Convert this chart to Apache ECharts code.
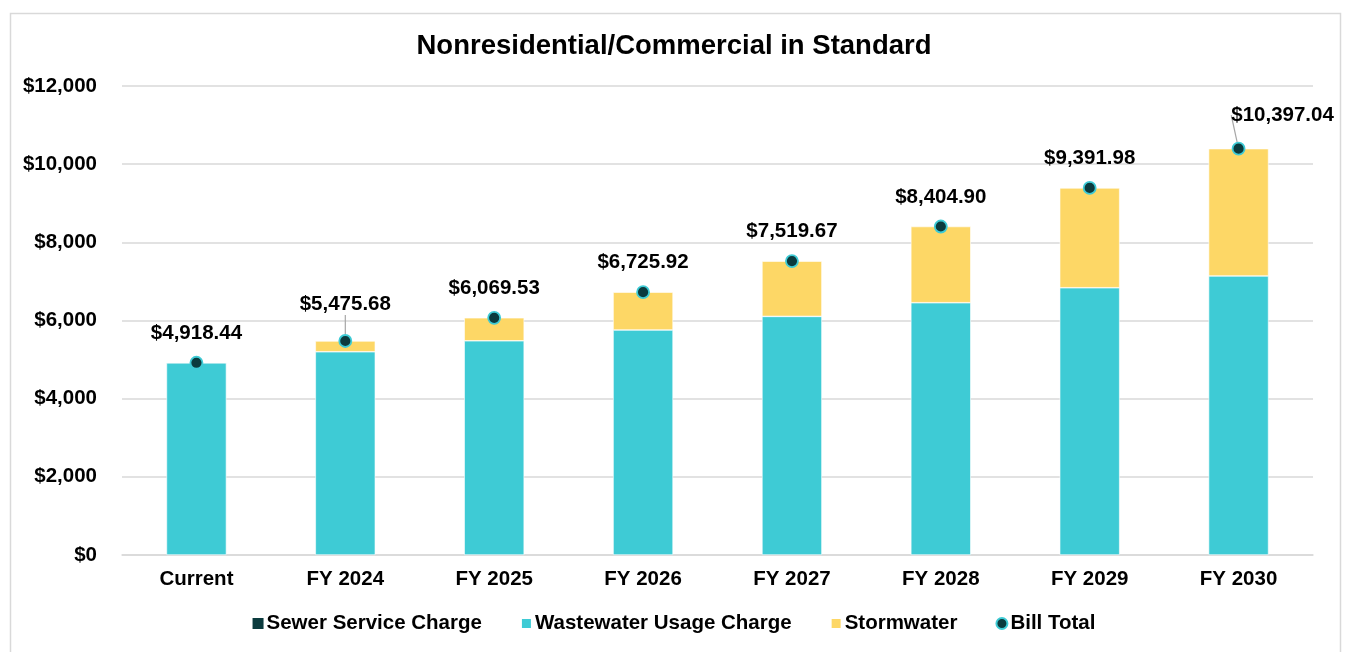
<!DOCTYPE html>
<html>
<head>
<meta charset="utf-8">
<title>Nonresidential/Commercial in Standard</title>
<script src="https://cdn.jsdelivr.net/npm/echarts@6/dist/echarts.min.js"></script>
<style>
  html, body { margin: 0; padding: 0; background: #ffffff; }
  #chart { width: 1348px; height: 652px; }
</style>
</head>
<body>
<div id="chart"></div>
<script>
// Bill components by fiscal year (USD)
const categories = ['Current', 'FY 2024', 'FY 2025', 'FY 2026', 'FY 2027', 'FY 2028', 'FY 2029', 'FY 2030'];
const sewerService = [0, 0, 0, 0, 0, 0, 0, 0];
const wastewaterUsage = [4918.44, 5200.00, 5480.00, 5757.00, 6105.00, 6455.00, 6838.00, 7140.00];
const stormwater = [0, 275.68, 589.53, 968.92, 1414.67, 1949.90, 2553.98, 3257.04];
const billTotal = [4918.44, 5475.68, 6069.53, 6725.92, 7519.67, 8404.90, 9391.98, 10397.04];
const yTicks = [0, 2000, 4000, 6000, 8000, 10000, 12000];

const FONT = '"Liberation Sans", Arial, sans-serif';
const TEXT_SIZE = 20.5;
const TEAL = '#3ecbd5';
const GOLD = '#fdd766';
const DARK = '#0b3b3e';

const money = v => '$' + v.toLocaleString('en-US', { minimumFractionDigits: 0, maximumFractionDigits: 0 });
const money2 = v => '$' + v.toLocaleString('en-US', { minimumFractionDigits: 2, maximumFractionDigits: 2 });

// Total labels that are nudged away from their point get a leader line
const labelShift = { 1: { dx: 0, dy: -7 }, 7: { dx: 44, dy: -4 } };
const totalPoints = billTotal.map((v, i) => (
  labelShift[i] ? { value: v, labelLine: { show: true } } : { value: v }
));

const chart = echarts.init(document.getElementById('chart'), null, { renderer: 'canvas' });

chart.setOption({
  backgroundColor: '#ffffff',
  animation: false,
  graphic: [{
    type: 'rect',
    left: 8, top: 11,
    shape: { width: 1330, height: 660 },
    style: { fill: 'none', stroke: '#d9d9d9', lineWidth: 1.5 },
    silent: true
  }],
  title: {
    text: 'Nonresidential/Commercial in Standard',
    left: 'center',
    top: 27,
    textStyle: { fontFamily: FONT, fontSize: 27.5, fontWeight: 'bold', color: '#000000' }
  },
  legend: {
    bottom: 13,
    left: 'center',
    itemGap: 38,
    itemWidth: 11,
    itemHeight: 11,
    textStyle: { fontFamily: FONT, fontSize: TEXT_SIZE, fontWeight: 'bold', color: '#000000', padding: [0, 0, 0, -2] },
    data: [
      { name: 'Sewer Service Charge', icon: 'rect' },
      { name: 'Wastewater Usage Charge', icon: 'rect' },
      { name: 'Stormwater', icon: 'rect' },
      { name: 'Bill Total', icon: 'circle' }
    ]
  },
  grid: { left: 122, right: 35, top: 86, bottom: 97, containLabel: false },
  xAxis: {
    type: 'category',
    data: categories,
    axisLine: { lineStyle: { color: '#d9d9d9', width: 1.5 } },
    axisTick: { show: false },
    axisLabel: { fontFamily: FONT, fontSize: TEXT_SIZE, fontWeight: 'bold', color: '#000000', margin: 14 }
  },
  yAxis: {
    type: 'value',
    min: yTicks[0],
    max: yTicks[yTicks.length - 1],
    interval: yTicks[1] - yTicks[0],
    axisLine: { show: false },
    axisTick: { show: false },
    splitLine: { lineStyle: { color: '#d9d9d9', width: 1.5 } },
    axisLabel: { fontFamily: FONT, fontSize: TEXT_SIZE, fontWeight: 'bold', color: '#000000', margin: 25, formatter: money }
  },
  series: [
    {
      name: 'Sewer Service Charge',
      type: 'bar',
      stack: 'bill',
      barWidth: 60,
      data: sewerService,
      itemStyle: { color: DARK, borderWidth: 0 }
    },
    {
      name: 'Wastewater Usage Charge',
      type: 'bar',
      stack: 'bill',
      barWidth: 60,
      data: wastewaterUsage,
      itemStyle: { color: TEAL, borderColor: '#ffffff', borderWidth: 0.6 }
    },
    {
      name: 'Stormwater',
      type: 'bar',
      stack: 'bill',
      barWidth: 60,
      data: stormwater,
      itemStyle: { color: GOLD, borderColor: '#ffffff', borderWidth: 0.6 }
    },
    {
      name: 'Bill Total',
      type: 'scatter',
      data: totalPoints,
      symbol: 'circle',
      symbolSize: 12,
      z: 5,
      itemStyle: { color: DARK, borderColor: TEAL, borderWidth: 1.8, opacity: 1 },
      label: {
        show: true,
        position: 'top',
        distance: 12,
        fontFamily: FONT,
        fontSize: TEXT_SIZE,
        fontWeight: 'bold',
        color: '#000000',
        textBorderWidth: 0,
        formatter: p => money2(p.value)
      },
      labelLine: { show: false, lineStyle: { color: '#a6a6a6', width: 1.2 } },
      labelLayout: p => labelShift[p.dataIndex] || {}
    }
  ]
});
</script>
</body>
</html>
